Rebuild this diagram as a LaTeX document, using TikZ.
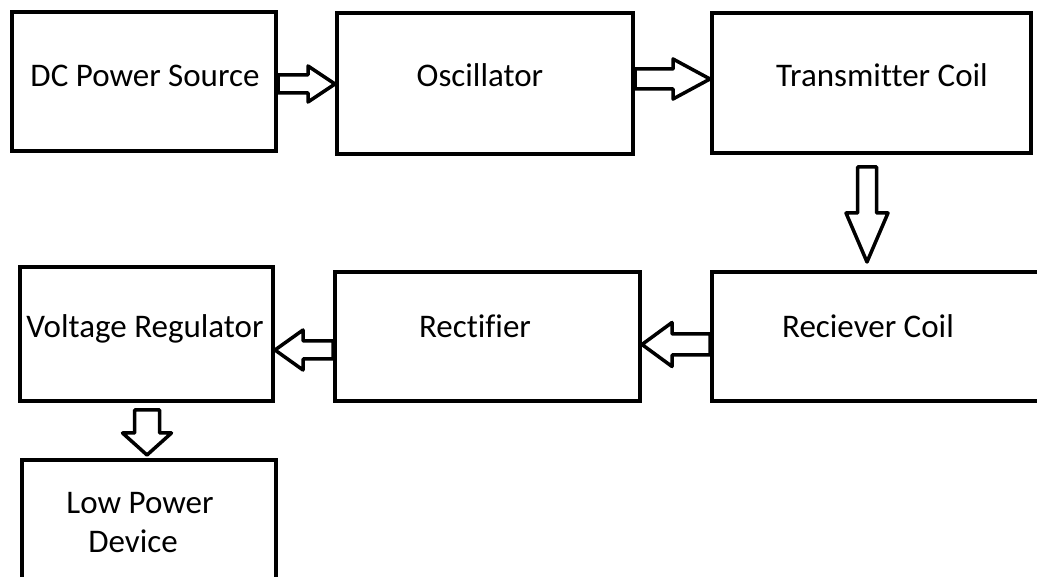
\documentclass[tikz,border=0pt]{standalone}
\usepackage{fontspec}
\setmainfont{Carlito}[Ligatures={NoCommon}]
\usetikzlibrary{calc}

% hollow block arrow from tail #1 to tip #2:
% #3 half shaft width, #4 half head width, #5 head length
\newcommand\blockarrow[5]{%
  \coordinate (ba-b) at ($(#2)!#5!(#1)$);
  \draw[flowarrow]
    ($(#1)!#3!90:(#2)$) -- ($(ba-b)!#3!90:(#2)$) -- ($(ba-b)!#4!90:(#2)$) --
    (#2) --
    ($(ba-b)!#4!-90:(#2)$) -- ($(ba-b)!#3!-90:(#2)$) -- ($(#1)!#3!-90:(#2)$) -- cycle;
}

\begin{document}
\begin{tikzpicture}[x=1pt,y=1pt,
  box/.style={draw=black, line width=4pt, fill=white, inner sep=0pt, rectangle},
  caption/.style={font=\fontsize{33}{39}\selectfont, text=black, anchor=base, inner sep=0pt, align=center},
  flowarrow/.style={draw=black, fill=white, line width=3.5pt, line join=round}]
\useasboundingbox (0,0) rectangle (1037,-577);
\clip (0,0) rectangle (1037,-577);

% blocks
\node[box, minimum width=264pt, minimum height=139pt] (dc)   at (144,-81.5) {};
\node[box, minimum width=296pt, minimum height=141pt] (osc)  at (485,-83.5) {};
\node[box, minimum width=319pt, minimum height=140pt] (tx)   at (871.5,-83) {};
\node[box, minimum width=338pt, minimum height=129pt] (rx)   at (881,-336.5) {};
\node[box, minimum width=305pt, minimum height=129pt] (rect) at (487.5,-336.5) {};
\node[box, minimum width=253pt, minimum height=134pt] (vr)   at (146.5,-334) {};
\node[box, minimum width=254pt, minimum height=140pt] (lpd)  at (149,-530) {};

% block captions
\node[caption] (dcl)   at (145,-87)  {DC Power Source};
\node[caption] (oscl)  at (480,-87)  {Oscillator};
\node[caption] (txl)   at (882,-87)  {Transmitter Coil};
\node[caption] (rxl)   at (868,-338) {Reciever Coil};
\node[caption] (rectl) at (475,-338) {Rectifier};
\node[caption] (vrl)   at (145,-338) {Voltage Regulator};
\node[caption, anchor=north] (lpdl) at (140,-492) {Low Power\\Device\hspace*{14pt}};

% signal flow
\coordinate (a1s) at (dc.east |- 0,-84);
\coordinate (a1e) at (osc.west |- 0,-84);
\blockarrow{a1s}{a1e}{9pt}{18pt}{27pt}

\coordinate (a2s) at (osc.east |- 0,-79);
\coordinate (a2e) at (tx.west |- 0,-79);
\blockarrow{a2s}{a2e}{10pt}{20pt}{37pt}

\coordinate (a3s) at ($(tx.south)+(-4.5,-12)$);
\coordinate (a3e) at ($(a3s |- rx.north)+(0,8)$);
\blockarrow{a3s}{a3e}{9.5pt}{21pt}{49pt}

\coordinate (a4s) at (rx.west |- 0,-344.5);
\coordinate (a4e) at (rect.east |- 0,-344.5);
\blockarrow{a4s}{a4e}{10.5pt}{22pt}{30pt}

\coordinate (a5s) at (rect.west |- 0,-350);
\coordinate (a5e) at (vr.east |- 0,-350);
\blockarrow{a5s}{a5e}{9pt}{20pt}{28pt}

\coordinate (a6s) at ($(vr.south)+(0.5,-7)$);
\coordinate (a6e) at ($(a6s |- lpd.north)+(0,3)$);
\blockarrow{a6s}{a6e}{12.5pt}{24.5pt}{22pt}
\end{tikzpicture}
\end{document}
